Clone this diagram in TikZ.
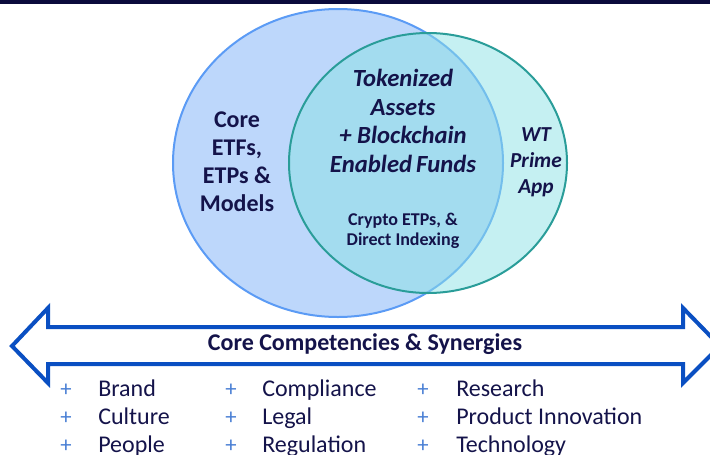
\documentclass[tikz,border=0pt]{standalone}
\usepackage{fontspec}
\setmainfont{Carlito}
\definecolor{navy}{HTML}{14134A}
\definecolor{topbar}{HTML}{0A0A3C}
\definecolor{bigfill}{HTML}{BDD7FB}
\definecolor{bigline}{HTML}{5B9BF5}
\definecolor{smallfill}{HTML}{8BE1E5}
\definecolor{smallline}{HTML}{2A9D99}
\definecolor{arrowblue}{HTML}{0A4FC2}
\definecolor{plusblue}{HTML}{4A7FD4}
\tikzset{
  lbl/.style={text=navy, align=center, inner sep=0pt},
  item/.style={text=navy, anchor=base west, inner sep=0pt, font=\fontsize{18}{20}\selectfont},
  plus/.style={text=plusblue, anchor=base, inner sep=0pt, font=\fontsize{17}{20}\selectfont},
}
\begin{document}
\begin{tikzpicture}[x=0.75pt,y=-0.75pt]
\useasboundingbox (0,0) rectangle (710,454);
\clip (0,0) rectangle (710,454);
\fill[topbar] (0,0) rectangle (710,4);
% ellipses
\fill[bigfill] (338,163) ellipse [x radius=165, y radius=154];
\draw[bigline, line width=1.5pt] (338,163) ellipse [x radius=165, y radius=154];
\fill[smallfill, fill opacity=0.5] (428,163) ellipse [x radius=139, y radius=130];
\draw[smallline, line width=1.5pt] (428,163) ellipse [x radius=139, y radius=130];
% texts in circles
\node[lbl, font=\fontsize{18}{21}\selectfont\bfseries] (core) at (237,162) {Core\\ETFs,\\ETPs \&\\Models};
\node[lbl, font=\fontsize{18.5}{21.4}\selectfont\bfseries\itshape] (tok) at (403,121) {Tokenized\\Assets\\+ Blockchain\\Enabled\,Funds};
\node[lbl, font=\fontsize{16}{19.5}\selectfont\bfseries\itshape] (wt) at (536,162) {WT\\Prime\\App};
\node[lbl, font=\fontsize{13.5}{15}\selectfont\bfseries] (crypto) at (403,231) {Crypto ETPs, \&\\Direct Indexing};
% double arrow
\draw[arrowblue, line width=3pt, line join=miter] (12,346) -- (48,308) -- (48,327) -- (683,327) -- (683,308) -- (720,346) -- (683,383) -- (683,364) -- (48,364) -- (48,383) -- cycle;
\node[lbl, font=\fontsize{18}{20}\selectfont\bfseries] (ccs) at (365,344) {Core Competencies \& Synergies};
% lists
\foreach \px/\c in {66/1, 231/2, 423/3} {
  \foreach \y/\r in {396/1, 424.5/2, 452/3} {
    \node[plus] (p\c\r) at (\px,\y) {+};
  }
}
\node[item] (b1) at (98,396) {Brand};
\node[item] (b2) at (98,424.5) {Culture};
\node[item] (b3) at (98,452) {People};
\node[item] (c1) at (262,396) {Compliance};
\node[item] (c2) at (262,424.5) {Legal};
\node[item] (c3) at (262,452) {Regulation};
\node[item] (r1) at (456,396) {Research};
\node[item] (r2) at (456,424.5) {Product Innovation};
\node[item] (r3) at (456,452) {Technology};
\end{tikzpicture}
\end{document}
